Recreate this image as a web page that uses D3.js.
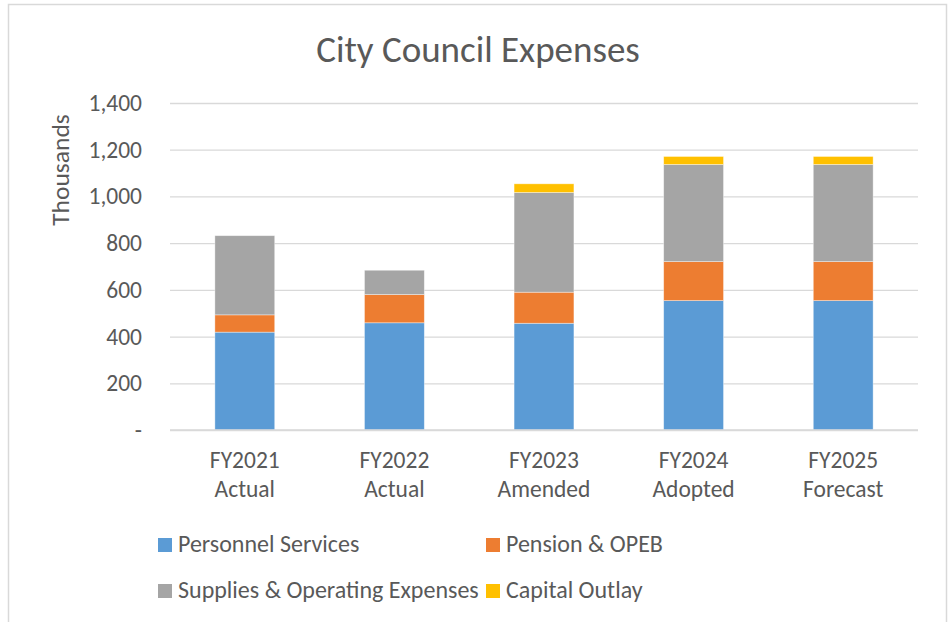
<!DOCTYPE html>
<html>
<head>
<meta charset="utf-8">
<script src="https://cdn.jsdelivr.net/npm/d3@7"></script>
<style>
  body { margin: 0; background: #fff; }
  svg text { font-family: Carlito, Calibri, "Open Sans", sans-serif; fill: #595959; }
</style>
</head>
<body>
<svg id="chart" width="951" height="622"></svg>
<script>
// categories (two-line labels)
const years = ["FY2021", "FY2022", "FY2023", "FY2024", "FY2025"];
const stages = ["Actual", "Actual", "Amended", "Adopted", "Forecast"];

// series values, in thousands
const personnel = [419, 459, 457, 554, 554];
const pension   = [74, 121, 133, 167, 167];
const supplies  = [339, 104, 427, 416, 416];
const capital   = [0, 0, 37, 34, 34];

const seriesNames = ["Personnel Services", "Pension & OPEB", "Supplies & Operating Expenses", "Capital Outlay"];
const colors = ["#5B9BD5", "#ED7D31", "#A5A5A5", "#FFC000"];
const yTicks = [0, 200, 400, 600, 800, 1000, 1200, 1400];

const svg = d3.select("#chart");
const margin = { left: 170, right: 33, top: 103, bottom: 192 };
const width = 951 - margin.left - margin.right;
const height = 622 - margin.top - margin.bottom;

// chart frame
svg.append("rect")
  .attr("x", 8.5).attr("y", 4.5)
  .attr("width", 938).attr("height", 640)
  .attr("fill", "#fff").attr("stroke", "#d9d9d9").attr("stroke-width", 1.5);

svg.append("text")
  .attr("x", 478).attr("y", 62)
  .attr("text-anchor", "middle")
  .style("font-size", "37px")
  .text("City Council Expenses");

const g = svg.append("g").attr("transform", `translate(${margin.left},${margin.top})`);

const x = d3.scaleBand()
  .domain(years)
  .range([0, width])
  .paddingInner(0.6)
  .paddingOuter(0.3);

const y = d3.scaleLinear()
  .domain([0, 1400])
  .range([height, 0]);

// gridlines + tick labels
const yAxis = g.append("g")
  .call(d3.axisLeft(y)
    .tickValues(yTicks)
    .tickSize(-width)
    .tickPadding(28)
    .tickFormat(d => d === 0 ? "-" : d3.format(",")(d)));
yAxis.select(".domain").remove();
yAxis.selectAll("line").attr("stroke", "#d9d9d9").attr("stroke-width", 1.3);
yAxis.selectAll("text").style("font-size", "23.5px").attr("fill", "#595959");

svg.append("text")
  .attr("transform", "translate(69,170) rotate(-90)")
  .attr("text-anchor", "middle")
  .style("font-size", "25.5px")
  .text("Thousands");

// stacked bars
const table = years.map((yr, i) => ({
  year: yr,
  "Personnel Services": personnel[i],
  "Pension & OPEB": pension[i],
  "Supplies & Operating Expenses": supplies[i],
  "Capital Outlay": capital[i]
}));
const stacked = d3.stack().keys(seriesNames)(table);

g.selectAll(".series")
  .data(stacked)
  .enter().append("g")
  .attr("fill", (d, i) => colors[i])
  .selectAll("rect")
  .data(d => d)
  .enter().append("rect")
  .attr("x", d => x(d.data.year))
  .attr("y", d => y(d[1]))
  .attr("width", x.bandwidth())
  .attr("height", d => y(d[0]) - y(d[1]))
  .attr("stroke", "#fff")
  .attr("stroke-opacity", 0.5)
  .attr("stroke-width", 0.75);

// category axis
g.append("line")
  .attr("x1", 0).attr("x2", width)
  .attr("y1", height).attr("y2", height)
  .attr("stroke", "#d9d9d9").attr("stroke-width", 1.3);

const xl = g.append("g").selectAll("text")
  .data(years)
  .enter().append("text")
  .attr("x", d => x(d) + x.bandwidth() / 2)
  .attr("y", height + 38)
  .attr("text-anchor", "middle")
  .style("font-size", "23.5px");
xl.append("tspan").text(d => d);
xl.append("tspan")
  .attr("x", d => x(d) + x.bandwidth() / 2)
  .attr("dy", 29)
  .text((d, i) => stages[i]);

// legend
const legendPos = [[158, 538], [486, 538], [158, 584], [486, 584]];
const lg = svg.append("g").selectAll("g")
  .data(seriesNames)
  .enter().append("g")
  .attr("transform", (d, i) => `translate(${legendPos[i][0]},${legendPos[i][1]})`);
lg.append("rect").attr("width", 14).attr("height", 14).attr("fill", (d, i) => colors[i]);
lg.append("text").attr("x", 20).attr("y", 14).style("font-size", "24px").text(d => d);
</script>
</body>
</html>
